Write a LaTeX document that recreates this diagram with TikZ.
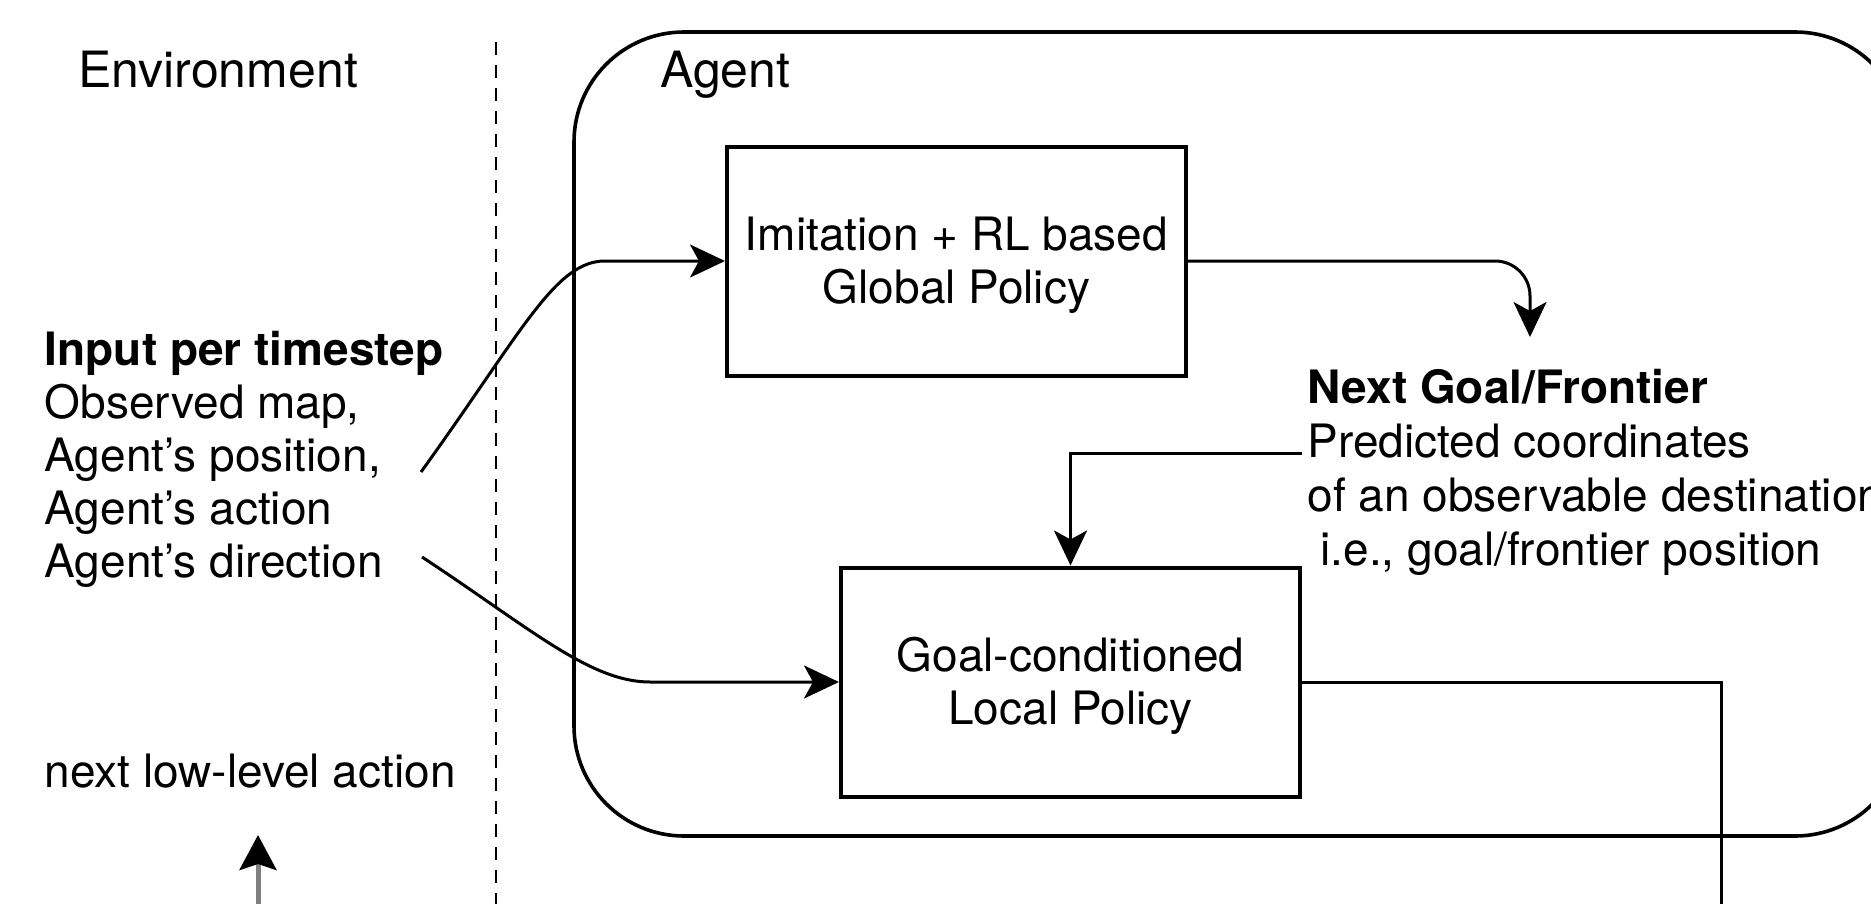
\documentclass[tikz,border=0pt]{standalone}
\usepackage{fontspec}
\setmainfont{TeX Gyre Heros}
\usetikzlibrary{arrows.meta}
\begin{document}
\begin{tikzpicture}[x=1pt,y=-1pt,
  box/.style={draw, line width=4pt, minimum width=459pt, minimum height=229pt, inner sep=0pt, align=center, font=\fontsize{46}{53}\selectfont},
  conn/.style={line width=3pt, -{Stealth[length=35pt,width=33pt,inset=9pt]}},
  plainline/.style={line width=3pt},
  txt/.style={inner sep=0pt, align=left, font=\fontsize{46}{53}\selectfont},
  title/.style={inner sep=0pt, font=\fontsize{50}{60}\selectfont}]
\useasboundingbox (0,0) rectangle (1871,903);
\clip (0,0) rectangle (1871,903);
% agent container and environment separator
\draw[line width=3.6pt, rounded corners=110pt] (574,32) rectangle (1905,836);
\draw[line width=2.8pt, dash pattern=on 13pt off 10pt] (496,42) -- (496,910);
% labels
\node[title, anchor=base west] (env) at (78,87) {Environment};
\node[title, anchor=base west] (agentlbl) at (660,87) {Agent};
\node[txt, anchor=north west] (input) at (44.5,327.9) {\strut\textbf{Input per timestep}\\Observed map,\\Agent's position,\\Agent's action\\Agent's direction};
\node[txt, anchor=base west] (nextact) at (44.5,787) {next low-level action};
\node[txt, anchor=north west, font=\fontsize{46}{54}\selectfont] (goal) at (1307.5,365.2) {\strut\textbf{Next Goal/Frontier}\\Predicted coordinates\\of an observable destination\\\ i.e., goal/frontier position};
% boxes
\node[box] (global) at (956.5,261) {\rule{0pt}{42pt}Imitation + RL based\\Global Policy};
\node[box] (local) at (1070.5,682) {\rule{0pt}{42pt}Goal-conditioned\\Local Policy};
% connectors
\coordinate (in1) at (421,472);
\coordinate (in2) at (422,557);
\draw[conn] (in1) .. controls (522,332) and (555,261) .. (605,261) -- (global.west);
\draw[conn] (in2) .. controls (530,628) and (590,682) .. (650,682) -- (local.west);
\coordinate (goaltip) at (1530,337);
\draw[conn, rounded corners=35pt] (global.east) -| (goaltip);
\coordinate (predstart) at (1302,453);
\draw[conn] (predstart) -| (local.north);
\coordinate (outend) at (1721,910);
\draw[plainline] (local.east) -| (outend);
\coordinate (actbot) at (258,910);
\coordinate (acttip) at (258,835);
\draw[line width=5pt, draw=black!50, -{Stealth[length=35pt,width=37pt,inset=6pt,color=black]}] (actbot) -- (acttip);
\end{tikzpicture}
\end{document}
